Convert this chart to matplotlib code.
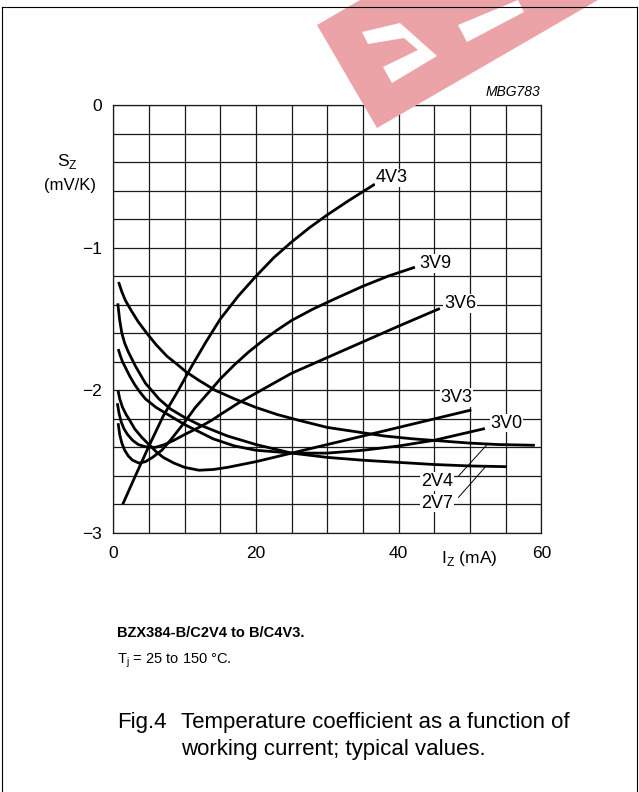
import matplotlib
matplotlib.use("Agg")
import matplotlib.pyplot as plt
from matplotlib.patches import Polygon
from matplotlib.lines import Line2D
import numpy as np

plt.rcParams['font.family'] = ['Liberation Sans', 'DejaVu Sans']
plt.rcParams['mathtext.fontset'] = 'custom'
plt.rcParams['mathtext.rm'] = 'Liberation Sans'

W, H = 639, 792

### curves: Iz (mA) and Sz (mV/K)
i_2v4 = [0.8, 1.2, 1.7, 2.5, 3.5, 4.7, 6, 7.5, 9, 10.2, 12, 14.3, 17, 20, 23, 26, 30, 34, 38, 42, 46, 50, 54, 58.9]
s_2v4 = [-1.25, -1.31, -1.37, -1.44, -1.52, -1.60, -1.68, -1.76, -1.82, -1.87, -1.93, -2.00, -2.06, -2.12,
         -2.17, -2.21, -2.26, -2.29, -2.32, -2.34, -2.355, -2.37, -2.38, -2.385]

i_2v7 = [0.65, 0.9, 1.2, 1.6, 2.1, 3.1, 4.5, 6.4, 8, 10, 12, 14, 16, 20, 25, 30, 35, 40, 45, 50, 55]
s_2v7 = [-1.40, -1.51, -1.60, -1.67, -1.73, -1.83, -1.95, -2.06, -2.13, -2.19, -2.24, -2.28, -2.32, -2.38,
         -2.44, -2.47, -2.49, -2.505, -2.52, -2.53, -2.535]

i_3v0 = [0.75, 1.0, 1.3, 1.7, 2.3, 3.0, 3.7, 4.5, 6, 8, 10, 12, 14, 17, 20, 25, 30, 35, 40, 45, 51.9]
s_3v0 = [-1.72, -1.76, -1.80, -1.84, -1.90, -1.96, -2.01, -2.06, -2.12, -2.18, -2.24, -2.29, -2.34, -2.39,
         -2.42, -2.44, -2.44, -2.42, -2.39, -2.35, -2.27]

i_3v3 = [0.7, 0.9, 1.3, 1.8, 2.3, 3.0, 4.0, 5.0, 6.0, 7.0, 8.5, 10, 12, 14, 16, 20, 25, 30, 35, 40, 45, 50]
s_3v3 = [-2.01, -2.06, -2.12, -2.17, -2.21, -2.27, -2.33, -2.38, -2.43, -2.47, -2.51, -2.54, -2.56, -2.555,
         -2.54, -2.50, -2.44, -2.38, -2.32, -2.26, -2.20, -2.14]

i_3v6 = [0.6, 0.8, 1.1, 1.5, 2.0, 2.7, 3.5, 4.5, 5.9, 7.2, 8.5, 10, 12, 13.8, 15, 17.5, 20, 22.5, 25, 30, 35, 40, 45.6]
s_3v6 = [-2.10, -2.16, -2.22, -2.27, -2.31, -2.35, -2.38, -2.395, -2.40, -2.38, -2.35, -2.31, -2.26, -2.21,
         -2.17, -2.09, -2.02, -1.95, -1.88, -1.77, -1.66, -1.55, -1.43]

i_3v9 = [0.7, 0.9, 1.2, 1.6, 2.1, 2.7, 3.6, 4.5, 5.5, 6.8, 8, 9.9, 11.5, 13.8, 15, 17, 19, 21, 22.9, 25, 28, 31,
         35, 38.5, 42.1]
s_3v9 = [-2.24, -2.31, -2.37, -2.42, -2.46, -2.49, -2.51, -2.50, -2.47, -2.42, -2.35, -2.23, -2.12, -1.99,
         -1.92, -1.82, -1.73, -1.65, -1.58, -1.51, -1.43, -1.36, -1.27, -1.20, -1.14]

i_4v3 = [1.4, 3, 5, 7, 9, 11, 13, 15, 17.5, 20, 22.5, 25, 27.5, 30, 33, 36.5]
s_4v3 = [-2.79, -2.61, -2.39, -2.18, -2.01, -1.83, -1.66, -1.50, -1.34, -1.20, -1.07, -0.96, -0.86, -0.77,
         -0.67, -0.56]

curves = [(i_2v4, s_2v4), (i_2v7, s_2v7), (i_3v0, s_3v0), (i_3v3, s_3v3),
          (i_3v6, s_3v6), (i_3v9, s_3v9), (i_4v3, s_4v3)]

# curve labels and where they sit
label_names = ['4V3', '3V9', '3V6', '3V3', '3V0', '2V4', '2V7']
label_x = [39.0, 45.1, 48.6, 48.1, 55.1, 45.4, 45.4]
label_y = [-0.51, -1.11, -1.39, -2.05, -2.23, -2.64, -2.79]

# leader lines for 2V4 and 2V7
leader_2v4 = ([48.4, 52.4], [-2.60, -2.38])
leader_2v7 = ([48.4, 52.1], [-2.75, -2.54])

xtick_vals = [0, 20, 40, 60]
ytick_vals = [0, -1, -2, -3]


def px(x, y):
    # image pixel -> figure fraction
    return (x / W, 1 - y / H)


fig = plt.figure(figsize=(W / 100, H / 100), dpi=100)
ax = fig.add_axes([113.3 / W, 1 - 533 / H, 428 / W, 428 / H])

ax.set_xlim(0, 60)
ax.set_ylim(-3, 0)
ax.set_xticks(np.arange(0, 61, 5))
ax.set_xticklabels([str(v) if v in xtick_vals else '' for v in range(0, 61, 5)])
yt = np.round(np.arange(-3, 0.01, 0.2), 1)
ylabs = []
for v in yt:
    if abs(v) < 1e-9:
        ylabs.append('0')
    elif abs(v - round(v)) < 1e-9 and round(v) in ytick_vals:
        ylabs.append('\u2212%d' % abs(v))
    else:
        ylabs.append('')
ax.set_yticks(yt)
ax.set_yticklabels(ylabs)
ax.tick_params(length=0, labelsize=12.5, colors='black')
ax.tick_params(axis='x', pad=9)
ax.tick_params(axis='y', pad=8)
ax.grid(True, color='#1a1a1a', linewidth=0.9)
for sp in ax.spines.values():
    sp.set_color('#1a1a1a')
    sp.set_linewidth(0.9)

for ii, ss in curves:
    ax.plot(ii, ss, color='black', linewidth=2.0, solid_joinstyle='round', zorder=3)

ax.plot(*leader_2v4, color='black', linewidth=0.7, zorder=3)
ax.plot(*leader_2v7, color='black', linewidth=0.7, zorder=3)

for name, lx, ly in zip(label_names, label_x, label_y):
    ax.text(lx, ly, name, fontsize=13, ha='center', va='center', zorder=4,
            bbox=dict(facecolor='white', edgecolor='none', pad=0.5))

ax.text(59.9, 0.063, 'MBG783', fontsize=10, style='italic', ha='right', va='baseline')
ax.text(-7.9, -0.43, 'S$_\\mathregular{Z}$', fontsize=12.5, ha='left', va='baseline')
ax.text(-2.4, -0.596, '(mV/K)', fontsize=12, ha='right', va='baseline')
ax.text(46.0, -3.21, 'I$_\\mathregular{Z}$ (mA)', fontsize=12.5, ha='left', va='baseline')

# caption
fig.text(*px(117, 637), 'BZX384-B/C2V4 to B/C4V3.', fontsize=10.5, fontweight='bold')
fig.text(*px(117, 663), 'T$_\\mathregular{j}$ = 25 to 150 \u00b0C.', fontsize=10.5)
fig.text(*px(117, 728), 'Fig.4', fontsize=16)
fig.text(*px(181, 728), 'Temperature coefficient as a function of', fontsize=16)
fig.text(*px(181, 755), 'working current; typical values.', fontsize=16)

# watermark
pink = Polygon([px(317, 25), px(377, 128), px(598, 0), px(360, 0)], closed=True,
               transform=fig.transFigure, facecolor='#eba3a8', edgecolor='none', zorder=1)
fig.patches.append(pink)
white1 = Polygon([px(362, 32), px(400, 23), px(437, 56), px(392, 83), px(383, 67),
                  px(418, 50), px(404, 38), px(368, 44)], closed=True,
                 transform=fig.transFigure, facecolor='white', edgecolor='none', zorder=1.1)
fig.patches.append(white1)
white2 = Polygon([px(458, 25), px(518, 0), px(524, 12), px(467, 42)], closed=True,
                 transform=fig.transFigure, facecolor='white', edgecolor='none', zorder=1.1)
fig.patches.append(white2)

# frame around the figure
for xs, ys in [([2, 637], [7, 7]), ([2, 2], [7, 792]), ([637, 637], [7, 792])]:
    fig.lines.append(Line2D([x / W for x in xs], [1 - y / H for y in ys],
                            transform=fig.transFigure, color='black', linewidth=0.8, zorder=2))

fig.savefig('out.png', dpi=100)
